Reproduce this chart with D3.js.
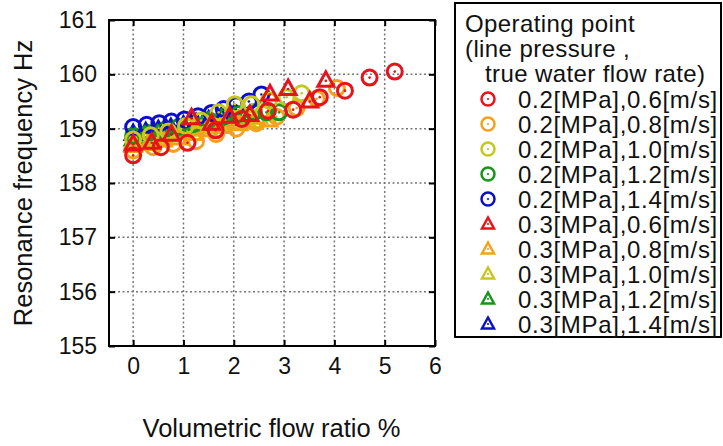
<!DOCTYPE html>
<html>
<head>
<meta charset="utf-8">
<script src="https://cdn.jsdelivr.net/npm/d3@7"></script>
<style>
  body { margin: 0; background: #fff; }
  text { font-family: "Liberation Sans", Arial, sans-serif; fill: #111; }
</style>
</head>
<body>
<div class="chart"></div>
<script>
var svgWidth = 723;
var svgHeight = 446;

// axes
var xTicks = [0, 1, 2, 3, 4, 5, 6];
var yTicks = [155, 156, 157, 158, 159, 160, 161];

// legend labels
var labels = [
  "0.2[MPa],0.6[m/s]", "0.2[MPa],0.8[m/s]", "0.2[MPa],1.0[m/s]", "0.2[MPa],1.2[m/s]", "0.2[MPa],1.4[m/s]",
  "0.3[MPa],0.6[m/s]", "0.3[MPa],0.8[m/s]", "0.3[MPa],1.0[m/s]", "0.3[MPa],1.2[m/s]", "0.3[MPa],1.4[m/s]"
];
var colors = ["#e8121a", "#f4a11c", "#c6c81e", "#17951a", "#0d0fc8",
              "#e8121a", "#f4a11c", "#c6c81e", "#17951a", "#0d0fc8"];
var shapes = ["circle", "circle", "circle", "circle", "circle",
              "triangle", "triangle", "triangle", "triangle", "triangle"];

// series values (flow ratio %, frequency Hz)
var c02_06x = [0, 0.55, 1.08, 1.64, 2.16, 2.68, 3.18, 3.71, 4.21, 4.70, 5.20];
var c02_06y = [158.51, 158.66, 158.74, 158.97, 159.18, 159.33, 159.35, 159.58, 159.70, 159.94, 160.05];
var c02_08x = [0, 0.40, 0.80, 1.25, 1.65, 2.05, 2.45, 2.85, 3.25, 3.65, 4.05];
var c02_08y = [158.60, 158.66, 158.72, 158.77, 158.90, 159.00, 159.10, 159.22, 159.38, 159.55, 159.75];
var c02_10x = [0, 0.35, 0.70, 1.05, 1.35, 1.70, 2.02, 2.35, 2.70, 3.05, 3.35];
var c02_10y = [158.80, 158.88, 158.95, 159.05, 159.15, 159.30, 159.45, 159.45, 159.52, 159.58, 159.65];
var c02_12x = [0, 0.30, 0.60, 0.90, 1.20, 1.50, 1.80, 2.10, 2.40, 2.65, 2.90];
var c02_12y = [158.87, 158.92, 158.97, 159.03, 159.09, 159.16, 159.22, 159.27, 159.30, 159.30, 159.30];
var c02_14x = [0, 0.27, 0.52, 0.76, 1.02, 1.29, 1.56, 1.80, 2.05, 2.30, 2.55];
var c02_14y = [159.03, 159.07, 159.10, 159.13, 159.17, 159.23, 159.29, 159.36, 159.43, 159.50, 159.63];
var t03_06x = [0, 0.37, 0.76, 1.16, 1.56, 1.92, 2.32, 2.72, 3.08, 3.51, 3.83];
var t03_06y = [158.71, 158.74, 158.89, 159.19, 159.09, 159.22, 159.25, 159.63, 159.73, 159.50, 159.88];
var t03_08x = [0, 0.30, 0.60, 0.90, 1.20, 1.50, 1.80, 2.10, 2.40, 2.70];
var t03_08y = [158.68, 158.72, 158.78, 158.82, 158.90, 158.97, 159.03, 159.08, 159.12, 159.15];
var t03_10x = [0, 0.25, 0.50, 0.75, 1.00, 1.25, 1.50, 1.75, 2.00, 2.25, 2.50];
var t03_10y = [158.75, 158.79, 158.83, 158.88, 158.93, 158.98, 159.03, 159.08, 159.12, 159.16, 159.20];
var t03_12x = [0, 0.25, 0.50, 0.75, 1.00, 1.25, 1.50, 1.75, 2.00, 2.20];
var t03_12y = [158.80, 158.84, 158.88, 158.93, 158.98, 159.03, 159.08, 159.13, 159.17, 159.20];
var t03_14x = [0, 0.25, 0.50, 0.75, 1.00, 1.25, 1.50, 1.75, 2.00];
var t03_14y = [158.90, 158.93, 158.97, 159.01, 159.05, 159.10, 159.15, 159.20, 159.25];

var seriesX = [c02_06x, c02_08x, c02_10x, c02_12x, c02_14x, t03_06x, t03_08x, t03_10x, t03_12x, t03_14x];
var seriesY = [c02_06y, c02_08y, c02_10y, c02_12y, c02_14y, t03_06y, t03_08y, t03_10y, t03_12y, t03_14y];
// order the marks are painted in (last on top)
var drawOrder = [9, 8, 7, 6, 1, 3, 4, 2, 0, 5];

var plot = { left: 109, right: 435, top: 20, bottom: 346 };

var svg = d3.select(".chart")
  .append("svg")
  .attr("width", svgWidth)
  .attr("height", svgHeight);

var xScale = d3.scaleLinear().domain([-0.48, 6]).range([plot.left, plot.right]);
var yScale = d3.scaleLinear().domain([155, 161]).range([plot.bottom, plot.top]);

// grid
svg.append("g").selectAll("line.gx")
  .data(xTicks.filter(d => d < 6))
  .enter().append("line")
  .attr("x1", d => xScale(d)).attr("x2", d => xScale(d))
  .attr("y1", plot.top).attr("y2", plot.bottom)
  .attr("stroke", "#777").attr("stroke-width", 1.5).attr("stroke-dasharray", "2,2.5");

svg.append("g").selectAll("line.gy")
  .data(yTicks.filter(d => d > 155 && d < 161))
  .enter().append("line")
  .attr("x1", plot.left).attr("x2", plot.right)
  .attr("y1", d => yScale(d)).attr("y2", d => yScale(d))
  .attr("stroke", "#777").attr("stroke-width", 1.5).attr("stroke-dasharray", "2,2.5");

// axes: inward ticks on all four sides
var bottomAxis = d3.axisBottom(xScale).tickValues(xTicks).tickFormat(d3.format("d")).tickSize(-6).tickPadding(12);
var topAxis = d3.axisTop(xScale).tickValues(xTicks).tickSize(-6).tickFormat("");
var leftAxis = d3.axisLeft(yScale).tickValues(yTicks).tickFormat(d3.format("d")).tickSize(-6).tickPadding(12);
var rightAxis = d3.axisRight(yScale).tickValues(yTicks).tickSize(-6).tickFormat("");

function styleAxis(g) {
  g.select(".domain").remove();
  g.selectAll(".tick line").attr("stroke", "#000").attr("stroke-width", 2);
  g.selectAll(".tick text").style("font-size", "23px").attr("fill", "#111")
    .style("font-family", "'Liberation Sans', Arial, sans-serif");
}

svg.append("g").attr("transform", `translate(0, ${plot.bottom})`).call(bottomAxis).call(styleAxis);
svg.append("g").attr("transform", `translate(0, ${plot.top})`).call(topAxis).call(styleAxis);
svg.append("g").attr("transform", `translate(${plot.left}, 0)`).call(leftAxis).call(styleAxis);
svg.append("g").attr("transform", `translate(${plot.right}, 0)`).call(rightAxis).call(styleAxis);

svg.append("rect")
  .attr("x", plot.left).attr("y", plot.top)
  .attr("width", plot.right - plot.left).attr("height", plot.bottom - plot.top)
  .attr("fill", "none").attr("stroke", "#000").attr("stroke-width", 2);

// markers
var triPath = "M0,-9L8,5.5L-8,5.5Z";

function drawMarker(g, shape, color) {
  if (shape === "circle") {
    g.append("circle").attr("r", 7.5).attr("fill", "none")
      .attr("stroke", color).attr("stroke-width", 3);
  } else {
    g.append("path").attr("d", triPath).attr("fill", "none")
      .attr("stroke", color).attr("stroke-width", 3).attr("stroke-linejoin", "miter");
  }
  g.append("circle").attr("r", 1.3).attr("fill", color);
}

var pointsGroup = svg.append("g");
drawOrder.forEach(function (i) {
  var pts = seriesX[i].map((x, j) => ({ x: x, y: seriesY[i][j] }));
  pointsGroup.selectAll(null)
    .data(pts)
    .enter()
    .append("g")
    .attr("transform", d => `translate(${xScale(d.x)}, ${yScale(d.y)})`)
    .each(function () { drawMarker(d3.select(this), shapes[i], colors[i]); });
});

// axis titles
svg.append("text")
  .attr("transform", `translate(${xScale(2.75)}, 437)`)
  .attr("text-anchor", "middle")
  .style("font-size", "25.5px")
  .text("Volumetric flow ratio %");

svg.append("text")
  .attr("transform", "translate(32, 183) rotate(-90)")
  .attr("text-anchor", "middle")
  .style("font-size", "25.5px")
  .text("Resonance frequency Hz");

// legend
var legend = svg.append("g");
legend.append("rect")
  .attr("x", 455).attr("y", 3).attr("width", 266).attr("height", 334)
  .attr("fill", "#fff").attr("stroke", "#000").attr("stroke-width", 2);

var lineH = 25;
var header = [["Operating point", 465], ["(line pressure ,", 465], ["true water flow rate)", 485]];
header.forEach(function (h, k) {
  legend.append("text")
    .attr("x", h[1]).attr("y", 32 + k * lineH)
    .style("font-size", "24px").style("letter-spacing", "0.4px")
    .text(h[0]);
});

labels.forEach(function (lab, i) {
  var cy = 24 + (i + 3) * lineH;
  var g = legend.append("g").attr("transform", `translate(488, ${cy})`);
  if (shapes[i] === "circle") {
    g.append("circle").attr("r", 6.5).attr("fill", "none")
      .attr("stroke", colors[i]).attr("stroke-width", 2.5);
  } else {
    g.append("path").attr("d", "M0,-6.5L6,4.5L-6,4.5Z").attr("fill", "none")
      .attr("stroke", colors[i]).attr("stroke-width", 2.5);
  }
  g.append("circle").attr("r", 1.1).attr("fill", colors[i]);
  legend.append("text")
    .attr("x", 518).attr("y", cy + 8.5)
    .style("font-size", "24px").style("letter-spacing", "0.7px")
    .text(lab);
});
</script>
</body>
</html>
